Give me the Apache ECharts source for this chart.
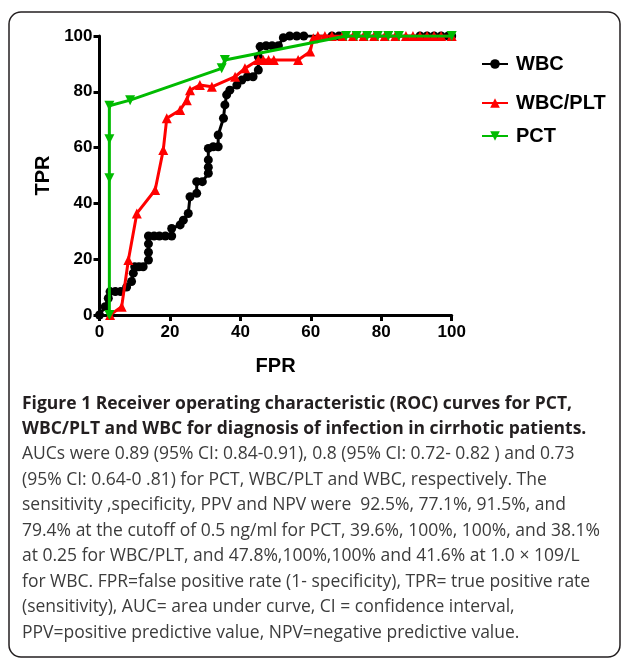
<!DOCTYPE html>
<html>
<head>
<meta charset="utf-8">
<script src="https://cdn.jsdelivr.net/npm/echarts@6/dist/echarts.min.js"></script>
<style>
html,body{margin:0;padding:0;background:#fff;}
#chart{width:629px;height:662px;}
</style>
</head>
<body>
<div id="chart"></div>
<script>
// ---- data (FPR, TPR) ----
const wbcData = [
  [0,0],[1.6,3],[2.5,6],[3,8.4],[4.5,8.4],[6,8.4],[7.7,10],[9.1,12],[9.6,15],[10,17.3],
  [11.2,17.3],[12.4,17.3],[13.9,19.7],[13.9,22.5],[13.9,25.5],[13.9,28.3],[15.5,28.3],[17,28.3],
  [18.7,28.3],[20.5,28.3],[20.5,31],[22.9,32.3],[23.8,34],[25.2,36.4],[25.7,42.4],[27.6,43.6],
  [27.6,47.8],[29.2,47.8],[30.9,50.8],[30.9,53],[30.9,55.6],[30.9,59.7],[32.3,60.3],[33.7,60.3],
  [33.7,64.5],[35.2,70.5],[35.6,75.3],[36.1,78.9],[37,80.6],[39,82.4],[40.4,84.2],[42,85.4],
  [43.6,85.4],[45.1,87.8],[45.1,92.6],[45.6,96.2],[47.3,96.5],[49,96.5],[50.8,96.5],[52.2,99.4],
  [54,100],[56,100],[58,100],[66,100],[68,100],[91,100],[93,100],[95,100],[97,100],[99,100],[100,100]
];
const wbcPltData = [
  [3,0],[6.3,3],[8.2,19.7],[10.6,36.4],[15.8,44.8],[18.1,59.1],[19.1,70.5],[22.9,73.5],[24.8,77],
  [25.7,80.6],[28.5,82.4],[31.9,81.8],[38.5,85.4],[41.3,88.4],[45.1,91.4],[46.5,91.4],[48,91.4],
  [49.5,91.4],[56.4,91.4],[59.8,94.4],[60.7,99.2],[62,100],[64,100],[66,100],[69,100],[72,100],
  [75,100],[78,100],[81,100],[84,100],[87,100],[89,100],[91,100],[93,100],[95,100],[97,100],[100,100]
];
const pctData = [
  [2.8,0],[2.8,49],[2.8,63],[2.8,75],[8.7,77],[34.7,88.4],[35.6,91.4],[70,100],[73,100],[76,100],
  [79,100],[82,100],[85,100],[100,100]
];
const xTicks = [0,20,40,60,80,100];
const seriesNames = ['WBC','WBC/PLT','PCT'];
const captionBold = [
  'Figure 1 Receiver operating characteristic (ROC) curves for PCT,',
  'WBC/PLT and WBC for diagnosis of infection in cirrhotic patients.'
];
const captionBody = [
  'AUCs were 0.89 (95% CI: 0.84-0.91), 0.8 (95% CI: 0.72- 0.82 ) and 0.73',
  '(95% CI: 0.64-0 .81) for PCT, WBC/PLT and WBC, respectively. The',
  'sensitivity ,specificity, PPV and NPV were  92.5%, 77.1%, 91.5%, and',
  '79.4% at the cutoff of 0.5 ng/ml for PCT, 39.6%, 100%, 100%, and 38.1%',
  'at 0.25 for WBC/PLT, and 47.8%,100%,100% and 41.6% at 1.0 \u00d7 109/L',
  'for WBC. FPR=false positive rate (1- specificity), TPR= true positive rate',
  '(sensitivity), AUC= area under curve, CI = confidence interval,',
  'PPV=positive predictive value, NPV=negative predictive value.'
];

const chart = echarts.init(document.getElementById('chart'), null, {renderer:'canvas'});
const axisFont = {fontFamily:'Liberation Sans, Arial, sans-serif', fontWeight:'bold', color:'#000'};

const graphics = [{
  type:'rect', shape:{x:9,y:12,width:611,height:645,r:12},
  style:{fill:'none',stroke:'#231f20',lineWidth:1.5}, z:-1
}];
const lineCenters = [407,432,457.5,483,508.5,534,559.5,585,610.5,636];
captionBold.forEach((t,i)=>graphics.push({type:'text',left:22,top:lineCenters[i]-12,
  style:{text:t,font:'bold 17.5px "Open Sans", sans-serif',fill:'#231f20',textVerticalAlign:'top'}}));
captionBody.forEach((t,i)=>graphics.push({type:'text',left:22,top:lineCenters[i+2]-12,
  style:{text:t,font:'17.5px "Open Sans", sans-serif',fill:'#3c3c3c',textVerticalAlign:'top'}}));

function legendAt(name, top){
  return {data:[name], left:476, top:top, orient:'vertical', itemWidth:26, itemHeight:12,
    textStyle:{fontFamily:'Liberation Sans, Arial, sans-serif', fontWeight:'bold', fontSize:20, color:'#000', padding:[0,0,0,3]}};
}

chart.setOption({
  animation:false,
  grid:{left:99.5, right:177.3, top:36, bottom:347},
  legend:[legendAt('WBC',49), legendAt('WBC/PLT',88), legendAt('PCT',121)],
  xAxis:{type:'value', min:0, max:100, interval:20,
    name:'FPR', nameLocation:'middle', nameGap:41,
    nameTextStyle:Object.assign({fontSize:20}, axisFont),
    axisLine:{lineStyle:{color:'#000',width:3}},
    axisTick:{length:6,lineStyle:{color:'#000',width:3}},
    axisLabel:Object.assign({fontSize:17, margin:9, formatter:v=>xTicks.includes(v)?String(v):''}, axisFont),
    splitLine:{show:false}},
  yAxis:{type:'value', min:0, max:100, interval:20,
    name:'TPR', nameLocation:'middle', nameGap:41,
    nameTextStyle:Object.assign({fontSize:20}, axisFont),
    axisLine:{show:true,lineStyle:{color:'#000',width:3}},
    axisTick:{show:true,length:6,lineStyle:{color:'#000',width:3}},
    axisLabel:Object.assign({fontSize:17, margin:7}, axisFont),
    splitLine:{show:false}},
  series:[
    {name:seriesNames[0], type:'line', data:wbcData, symbol:'circle', symbolSize:9,
      itemStyle:{color:'#000'}, lineStyle:{color:'#000',width:3}, z:2},
    {name:seriesNames[1], type:'line', data:wbcPltData, symbol:'triangle', symbolSize:10,
      itemStyle:{color:'#ff0000'}, lineStyle:{color:'#ff0000',width:3}, z:3},
    {name:seriesNames[2], type:'line', data:pctData, symbol:'triangle', symbolSize:10, symbolRotate:180,
      itemStyle:{color:'#00bb00'}, lineStyle:{color:'#00bb00',width:3}, z:4}
  ],
  graphic:graphics
});
</script>
</body>
</html>
